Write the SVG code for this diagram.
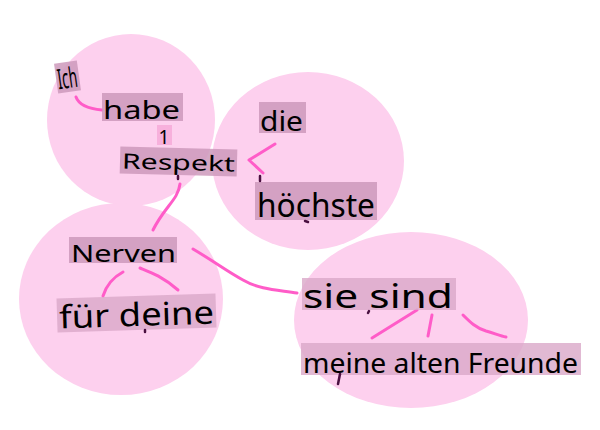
<svg xmlns="http://www.w3.org/2000/svg" width="600" height="430" viewBox="0 0 600 430">
<style>
.blob{fill:#fdd0ee}
.lbl{fill:#cc99bb;fill-opacity:0.85}
.lbl2{fill:#d9a8c8;fill-opacity:0.8}
.t{font-family:"Noto Sans","DejaVu Sans",sans-serif;fill:#000}
.c{fill:none;stroke:#ff5cc8;stroke-width:3;stroke-linecap:round;stroke-linejoin:round}
.m{fill:none;stroke:#4a1040;stroke-width:2.5;stroke-linecap:round}
</style>
<rect width="600" height="430" fill="#fff"/>
<g id="blobs">
<ellipse class="blob" cx="131" cy="120" rx="84" ry="86"/>
<ellipse class="blob" cx="308" cy="161" rx="96" ry="89"/>
<ellipse class="blob" cx="121" cy="299" rx="102" ry="96"/>
<ellipse class="blob" cx="411" cy="320" rx="117" ry="88"/>
</g>
<g id="connectors">
<path class="c" d="M76,97 Q80,108 102,110"/>
<path class="c" d="M180,184 C178,200 165,206 153,230"/>
<path class="c" d="M275,144 L249,160 L263,173"/>
<path class="c" d="M123,272 Q108,280 103,296"/>
<path class="c" d="M140,268 C150,272 162,276 178,290"/>
<path class="c" d="M193,249 C215,262 228,272 243,280 C260,290 280,290 297,293"/>
<path class="c" d="M417,310 L372,338"/>
<path class="c" d="M432,315 L428,336"/>
<path class="c" d="M463,315 C470,322 476,328 486,331 C494,333 500,336 506,337"/>
</g>
<g id="n-ich" transform="rotate(-8 67 77)">
<rect class="lbl" x="56" y="62" width="23" height="30"/>
<text class="t" x="57" y="88" font-size="28" textLength="20" lengthAdjust="spacingAndGlyphs">Ich</text>
</g>
<g id="n-habe">
<rect class="lbl" x="102" y="93" width="81" height="28"/>
<text class="t" x="103" y="119" font-size="26" textLength="77" lengthAdjust="spacingAndGlyphs">habe</text>
</g>
<g id="n-1">
<rect x="157" y="125" width="15" height="20" fill="#f7b0dc"/>
<text class="t" x="158.5" y="144" font-size="19">1</text>
</g>
<g id="n-respekt" transform="rotate(1.5 178 162)">
<rect class="lbl" x="120" y="148" width="117" height="27"/>
<text class="t" x="122" y="170" font-size="21" textLength="113" lengthAdjust="spacingAndGlyphs">Respekt</text>
</g>
<g id="n-die">
<rect class="lbl" x="259" y="102" width="47" height="31"/>
<text class="t" x="260" y="131" font-size="27" textLength="43" lengthAdjust="spacingAndGlyphs">die</text>
</g>
<g id="n-hoechste">
<rect class="lbl" x="255" y="182" width="122" height="38"/>
<text class="t" x="257" y="217" font-size="33" textLength="118" lengthAdjust="spacingAndGlyphs">höchste</text>
</g>
<g id="n-nerven">
<rect class="lbl" x="69" y="237" width="108" height="26"/>
<text class="t" x="71" y="262" font-size="24" textLength="105" lengthAdjust="spacingAndGlyphs">Nerven</text>
</g>
<g id="n-fuer-deine" transform="rotate(-1.8 136 313)">
<rect class="lbl2" x="57" y="296" width="159" height="34"/>
<text class="t" x="59" y="326" font-size="32" textLength="155" lengthAdjust="spacingAndGlyphs">für deine</text>
</g>
<g id="n-sie-sind">
<rect class="lbl2" x="302" y="278" width="154" height="32"/>
<text class="t" x="303" y="308" font-size="32" textLength="150" lengthAdjust="spacingAndGlyphs">sie sind</text>
</g>
<g id="n-meine">
<rect class="lbl2" x="301" y="343" width="280" height="32"/>
<text class="t" x="303" y="373" font-size="28" textLength="275" lengthAdjust="spacingAndGlyphs">meine alten Freunde</text>
</g>
<g id="marks">
<path class="m" d="M178,176 L178,179"/>
<path class="m" d="M260,176 L260,181"/>
<path class="m" d="M305,221 L308,222"/>
<path class="m" d="M145,330 L145,332"/>
<path class="m" d="M369,311 L368,313"/>
<path class="m" d="M340,374 L338,384"/>
</g>
</svg>
